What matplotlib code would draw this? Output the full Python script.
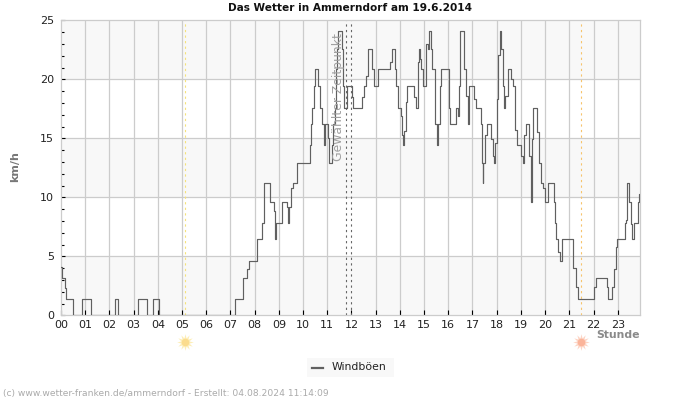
import matplotlib
matplotlib.use('Agg')
import matplotlib.pyplot as plt
from matplotlib.patches import Rectangle
from matplotlib.lines import Line2D

# Windboeen: minute of the day where the value changes, value holds until next entry
gust_minutes = [
    0, 3, 10, 12, 30, 52, 75, 133, 141, 192, 212, 227, 242, 432, 452, 460, 465, 486, 498, 504,
    518, 527, 530, 533, 548, 560, 562, 566, 570, 575, 585, 617, 620, 622, 627, 630, 637, 642, 647, 653,
    655, 662, 665, 672, 675, 678, 682, 685, 687, 697, 700, 702, 708, 721, 724, 745, 750, 755, 760, 770,
    775, 785, 815, 820, 829, 831, 835, 842, 846, 847, 851, 856, 857, 876, 880, 884, 888, 891, 893, 897,
    905, 909, 912, 916, 920, 927, 931, 935, 939, 942, 961, 965, 980, 983, 987, 990, 1000, 1005, 1009, 1012,
    1025, 1028, 1040, 1043, 1045, 1047, 1051, 1055, 1065, 1070, 1073, 1076, 1080, 1084, 1087, 1091, 1095, 1097, 1101, 1107,
    1116, 1120, 1125, 1131, 1141, 1146, 1148, 1152, 1161, 1164, 1166, 1168, 1171, 1181, 1185, 1190, 1195, 1200, 1208, 1221,
    1224, 1228, 1233, 1236, 1243, 1270, 1276, 1281, 1322, 1326, 1353, 1357, 1367, 1372, 1375, 1378, 1397, 1400, 1402, 1409,
    1413, 1415, 1421, 1431, 1434,
]
gust_values = [
    4.1, 3.2, 2.3, 1.4, 0, 1.4, 0, 1.4, 0, 1.4, 0, 1.4, 0, 1.4, 3.2, 3.9, 4.6, 6.5, 7.8, 11.2,
    9.6, 8.8, 6.5, 7.8, 9.6, 9.2, 7.8, 9.2, 10.8, 11.2, 12.9, 14.4, 16.2, 17.6, 19.4, 20.9, 19.4, 17.6, 16.2, 14.4,
    16.2, 15.0, 12.9, 14.4, 16.2, 17.6, 20.9, 22.6, 24.1, 22.6, 19.4, 17.6, 19.4, 18.5, 17.6, 18.5, 19.4, 20.3, 22.6, 20.9,
    19.4, 20.9, 21.5, 22.6, 20.9, 19.4, 17.6, 16.9, 15.3, 14.4, 15.6, 18.1, 19.4, 18.5, 17.6, 21.5, 22.6, 21.7, 20.9, 19.4,
    23.0, 22.6, 24.1, 22.6, 20.9, 16.2, 14.4, 16.2, 19.4, 20.9, 17.6, 16.2, 17.6, 16.9, 19.4, 24.1, 20.9, 18.6, 16.2, 19.4,
    18.3, 17.6, 16.2, 12.9, 11.2, 12.9, 15.3, 16.2, 14.9, 13.5, 12.9, 14.6, 18.3, 22.1, 24.1, 22.6, 19.4, 17.6, 18.6, 20.9,
    20.0, 19.4, 15.7, 14.4, 13.5, 12.9, 15.3, 16.2, 13.5, 11.2, 9.6, 14.9, 17.6, 15.5, 12.9, 11.2, 10.8, 9.6, 11.2, 9.6,
    7.8, 6.5, 5.4, 4.6, 6.5, 4.0, 2.4, 1.4, 2.4, 3.2, 2.4, 1.4, 2.4, 3.9, 5.8, 6.5, 7.8, 8.1, 11.2, 9.6,
    7.7, 6.5, 7.8, 9.6, 10.3,
]
end_minute = 1436

hours = list(range(24))
hour_labels = [f'{h:02d}' for h in hours]
y_major = [0, 5, 10, 15, 20, 25]
y_minor = [v for v in range(26) if v % 5]
bands = [(0, 5), (10, 15), (20, 25)]

sunrise = 5.14
sunset = 21.5
selected = [11.76, 12.0]

grid_col = '#cccccc'
band_col = '#f8f8f8'
line_col = '#606060'

W, H = 700, 400
fig = plt.figure(figsize=(7, 4), dpi=100)
ax = fig.add_axes([61 / W, 1 - 315.3 / H, (640.3 - 61) / W, (315.3 - 20.3) / H])
ax.set_xlim(0, end_minute / 60)
ax.set_ylim(0, 25)

for lo, hi in bands:
    ax.axhspan(lo, hi, color=band_col, lw=0, zorder=0)
for v in y_major[1:-1]:
    ax.axhline(v, color=grid_col, lw=0.9, zorder=1)
for h in hours[1:]:
    if h != 12:
        ax.axvline(h, color=grid_col, lw=0.9, zorder=1)

ax.axvline(sunrise, color='#f5e27a', lw=0.8, ls=(0, (2, 3)), zorder=1)
ax.axvline(sunset, color='#f7c36b', lw=0.8, ls=(0, (2, 3)), zorder=1)
for s in selected:
    ax.axvline(s, color='#666666', lw=0.8, ls=(0, (2, 3)), zorder=2)

x = [m / 60 for m in gust_minutes] + [end_minute / 60]
y = gust_values + [gust_values[-1]]
ax.step(x, y, where='post', color=line_col, lw=0.85, zorder=3)

ax.text(11.45, 18.5, 'Gewählter Zeitpunkt', rotation=90, ha='center', va='center',
        fontsize=8.9, color='#a0a0a0', zorder=4)

for s in ax.spines.values():
    s.set_color(grid_col)
    s.set_linewidth(0.9)

ax.set_xticks(hours)
ax.set_xticklabels(hour_labels, fontsize=8, color='#222222')
ax.set_yticks(y_major)
ax.set_yticklabels([str(v) for v in y_major], fontsize=8, color='#222222')
ax.set_yticks(y_minor, minor=True)
ax.tick_params(axis='x', direction='in', length=3.5, width=0.8, color='black', pad=3.5)
ax.tick_params(axis='y', which='major', direction='in', length=3, width=0.8, color='black', pad=5)
ax.tick_params(axis='y', which='minor', direction='in', length=2.2, width=0.8, color='black')

fig.text(350 / W, 1 - 8 / H, 'Das Wetter in Ammerndorf am 19.6.2014', ha='center', va='center',
         fontsize=7.6, fontweight='bold', color='#111111')
fig.text(15.5 / W, 1 - 167 / H, 'km/h', rotation=90, ha='center', va='center',
         fontsize=8, fontweight='bold', color='#777777')
fig.text(639.5 / W, 1 - 334.5 / H, 'Stunde', ha='right', va='center',
         fontsize=7.8, fontweight='bold', color='#8a8a8a')
fig.text(3 / W, 1 - 393.5 / H, '(c) www.wetter-franken.de/ammerndorf - Erstellt: 04.08.2024 11:14:09',
         ha='left', va='center', fontsize=6.55, color='#aaaaaa')

# sun symbols below the axis
for hx, col, ray in [(sunrise, '#fbdc8e', '#fdeeb8'), (sunset, '#fbb49a', '#fdd5c5')]:
    px = (61 + hx * 24.2) / W - 0.8 / W
    py = 1 - 341.5 / H
    fig.add_artist(Line2D([px], [py], marker=(12, 1, 0), ms=12, color=ray, mew=0, transform=fig.transFigure))
    fig.add_artist(Line2D([px], [py], marker='o', ms=5.5, color=col, mew=0, transform=fig.transFigure))

# legend box
fig.add_artist(Rectangle((307 / W, 1 - 377 / H), 87 / W, 19 / H, color=band_col, lw=0, transform=fig.transFigure))
fig.add_artist(Line2D([312 / W, 323 / W], [1 - 367.5 / H] * 2, color=line_col, lw=1.6, transform=fig.transFigure))
fig.text(332 / W, 1 - 366.5 / H, 'Windböen', ha='left', va='center', fontsize=7.8, color='#222222')

fig.savefig('out.png', dpi=100)
